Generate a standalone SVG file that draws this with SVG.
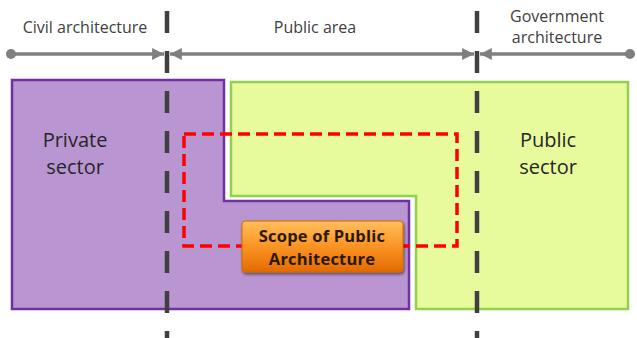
<svg xmlns="http://www.w3.org/2000/svg" width="637" height="338" viewBox="0 0 637 338">
<defs>
<linearGradient id="og" x1="0" y1="0" x2="0" y2="1">
<stop offset="0" stop-color="#ffbf5a"/>
<stop offset="0.5" stop-color="#fb9425"/>
<stop offset="1" stop-color="#e26a00"/>
</linearGradient>
<filter id="sh" x="-10%" y="-20%" width="120%" height="150%">
<feGaussianBlur in="SourceAlpha" stdDeviation="1.5"/>
<feOffset dx="1" dy="2"/>
<feComponentTransfer><feFuncA type="linear" slope="0.5"/></feComponentTransfer>
<feMerge><feMergeNode/><feMergeNode in="SourceGraphic"/></feMerge>
</filter>
<marker id="ah" viewBox="0 0 10 10" refX="10" refY="5" markerWidth="3.4" markerHeight="3.4" orient="auto-start-reverse">
<path d="M0,0 L10,5 L0,10 z" fill="#7f7f7f"/>
</marker>
</defs>
<style>
.hdr{font-family:"Open Sans","Noto Sans","Liberation Sans",sans-serif;font-size:16px;fill:#404040;text-anchor:middle}
.sec{font-family:"Open Sans","Noto Sans","Liberation Sans",sans-serif;font-size:20px;fill:#262626;text-anchor:middle}
.scope{font-family:"Open Sans","Noto Sans","Liberation Sans",sans-serif;font-size:16.5px;font-weight:bold;fill:#2a1800;text-anchor:middle;letter-spacing:0.2px}
.axis{stroke:#7f7f7f;stroke-width:3.5;fill:none}
.div{stroke:#404040;stroke-width:4.5;stroke-dasharray:22 18;fill:none}
</style>
<rect width="637" height="338" fill="#ffffff"/>
<g id="private-sector">
<path d="M12,80 H224 V201 H409 V309 H12 Z" fill="#b996d2" stroke="#7030a0" stroke-width="2.5"/>
<text class="sec" x="75" y="147">Private</text>
<text class="sec" x="75" y="174">sector</text>
</g>
<g id="public-sector">
<path d="M231,82 H628 V309 H416 V196 H231 Z" fill="#e7fa9c" stroke="#92d050" stroke-width="2.5"/>
<text class="sec" x="548" y="147">Public</text>
<text class="sec" x="548" y="174">sector</text>
</g>
<g id="scope-boundary">
<path d="M184,134 H457 V246 H184 Z" fill="none" stroke="#ff0000" stroke-width="3.5" stroke-dasharray="12 6"/>
</g>
<g id="connectors">
<line class="div" x1="167" y1="11" x2="167" y2="338"/>
<line class="div" x1="477" y1="11" x2="477" y2="338"/>
<circle cx="11" cy="54" r="5" fill="#7f7f7f"/>
<circle cx="630" cy="54" r="5" fill="#7f7f7f"/>
<line class="axis" x1="11" y1="54" x2="164" y2="54" marker-end="url(#ah)"/>
<line class="axis" x1="170" y1="54" x2="474" y2="54" marker-start="url(#ah)" marker-end="url(#ah)"/>
<line class="axis" x1="480" y1="54" x2="630" y2="54" marker-start="url(#ah)"/>
</g>
<g id="labels">
<text class="hdr" x="85" y="33">Civil architecture</text>
<text class="hdr" x="315" y="33">Public area</text>
<text class="hdr" x="557" y="22">Government</text>
<text class="hdr" x="557" y="43">architecture</text>
</g>
<g id="scope-of-public-architecture">
<rect x="242" y="221" width="161" height="51" rx="3" fill="url(#og)" stroke="#d26a00" stroke-width="1" filter="url(#sh)"/>
<text class="scope" x="322" y="242">Scope of Public</text>
<text class="scope" x="322" y="264.5">Architecture</text>
</g>
</svg>
